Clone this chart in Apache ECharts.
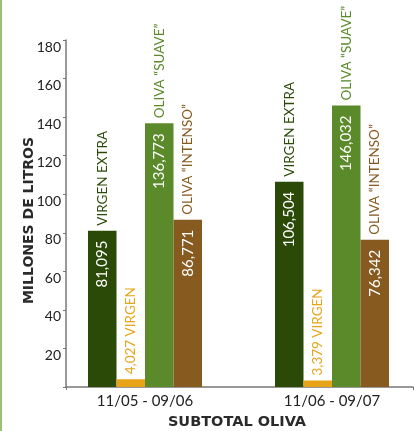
<!DOCTYPE html>
<html>
<head>
<meta charset="utf-8">
<style>
  html, body { margin: 0; padding: 0; background: #ffffff; }
  #chart { width: 414px; height: 431px; }
</style>
<script src="https://cdn.jsdelivr.net/npm/echarts@6/dist/echarts.min.js"></script>
</head>
<body>
<div id="chart"></div>
<script>
// Campaigns (oil years)
const categories = ['11/05 - 09/06', '11/06 - 09/07'];

// Millions of litres per product type
const seriesNames = ['VIRGEN EXTRA', 'VIRGEN', 'OLIVA \u201CSUAVE\u201D', 'OLIVA \u201CINTENSO\u201D'];
const virgenExtra = [81.095, 106.504];
const virgen = [4.027, 3.379];
const olivaSuave = [136.773, 146.032];
const olivaIntenso = [86.771, 76.342];
const seriesValues = [virgenExtra, virgen, olivaSuave, olivaIntenso];

// Value axis ticks
const yTicks = [0, 20, 40, 60, 80, 100, 120, 140, 160, 180];

const colors = ['#2b4a08', '#e8a418', '#5b8a2a', '#875a20'];
const FONT = 'Lato';
const TITLE_FONT = 'DejaVu Sans';

const fmt = v => v.toFixed(3).replace('.', ',');

const chart = echarts.init(document.getElementById('chart'), null, { renderer: 'canvas' });

const yMin = yTicks[0];
const yMax = yTicks[yTicks.length - 1];
const yStep = yTicks[1] - yTicks[0];

const barSeries = [];
// Solid bars with the value written inside
seriesValues.forEach((vals, i) => {
  barSeries.push({
    name: seriesNames[i],
    type: 'bar',
    xAxisIndex: 1,
    yAxisIndex: 1,
    data: vals,
    barWidth: 28.5,
    barGap: '0%',
    itemStyle: { color: colors[i] },
    label: {
      show: i !== 1,
      position: 'insideTop',
      rotate: 90,
      align: 'right',
      verticalAlign: 'middle',
      distance: 10,
      color: '#ffffff',
      fontFamily: FONT,
      fontSize: 15,
      formatter: p => fmt(p.value)
    }
  });
});
// Names above each bar (same values, transparent bars on a twin axis)
seriesValues.forEach((vals, i) => {
  barSeries.push({
    name: seriesNames[i] + ' ',
    type: 'bar',
    xAxisIndex: 2,
    yAxisIndex: 1,
    data: vals,
    barWidth: 28.5,
    barGap: '0%',
    silent: true,
    itemStyle: { color: 'rgba(0,0,0,0)' },
    label: {
      show: true,
      position: 'top',
      rotate: 90,
      align: 'left',
      verticalAlign: 'middle',
      distance: 5,
      color: colors[i],
      fontFamily: FONT,
      fontSize: 13.5,
      formatter: p => (i === 1 ? fmt(p.value) + ' ' : '') + seriesNames[i]
    }
  });
});

const option = {
  backgroundColor: '#ffffff',
  animation: false,
  textStyle: { fontFamily: FONT },
  graphic: [{
    type: 'rect',
    left: 0, top: 0,
    shape: { width: 2, height: 431 },
    style: { fill: '#9cc07a' },
    silent: true
  }],
  grid: [
    { left: 66, top: 40, width: 347, height: 347, outerBoundsMode: 'none', containLabel: false },
    { left: 51.5, top: 40, width: 374, height: 347, outerBoundsMode: 'none', containLabel: false }
  ],
  xAxis: [
    {
      gridIndex: 0,
      type: 'category',
      data: [''],
      axisLine: { lineStyle: { color: '#777777', width: 1.5 } },
      axisTick: { show: true, length: 3, lineStyle: { color: '#777777' } },
      axisLabel: { show: false },
      name: 'SUBTOTAL OLIVA',
      nameLocation: 'middle',
      nameGap: 28,
      nameMoveOverlap: false,
      nameTextStyle: { fontFamily: TITLE_FONT, fontWeight: 'bold', fontSize: 14.5, color: '#2a2a2a', padding: [0, 5, 0, 0] }
    },
    {
      gridIndex: 1,
      type: 'category',
      data: categories,
      axisLine: { show: false },
      axisTick: { show: false },
      axisLabel: { color: '#222222', fontFamily: FONT, fontSize: 15, margin: 7 }
    },
    {
      gridIndex: 1,
      type: 'category',
      data: categories,
      show: false
    }
  ],
  yAxis: [
    {
      gridIndex: 0,
      type: 'value',
      min: yMin,
      max: yMax,
      interval: yStep,
      axisLine: { show: true, lineStyle: { color: '#777777', width: 1.5 } },
      axisTick: { show: true, length: 3, lineStyle: { color: '#777777' } },
      splitLine: { show: false },
      axisLabel: {
        color: '#222222',
        fontFamily: FONT,
        fontSize: 14,
        margin: 5,
        verticalAlign: 'top',
        formatter: v => (v === 0 ? '' : String(v))
      },
      name: 'MILLONES DE LITROS',
      nameLocation: 'middle',
      nameGap: 30,
      nameMoveOverlap: false,
      nameRotate: 90,
      nameTextStyle: { fontFamily: TITLE_FONT, fontWeight: 'bold', fontSize: 14, color: '#2a2a2a', padding: [0, 14, 0, 0] }
    },
    {
      gridIndex: 1,
      type: 'value',
      min: yMin,
      max: yMax,
      interval: yStep,
      show: false
    }
  ],
  series: barSeries
};

chart.setOption(option);
</script>
</body>
</html>
